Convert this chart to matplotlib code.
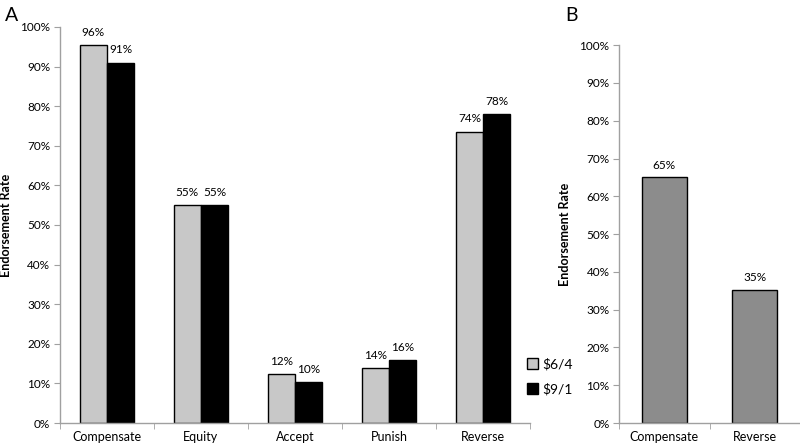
import numpy as np
import matplotlib
matplotlib.use("Agg")
import matplotlib.pyplot as plt
from matplotlib.patches import Patch
from matplotlib.ticker import FixedLocator, PercentFormatter

plt.rcParams["font.family"] = ["Lato", "DejaVu Sans"]

# ---- data ----
categories_a = ["Compensate", "Equity", "Accept", "Punish", "Reverse"]
vals_64 = [95.5, 55.0, 12.3, 13.8, 73.6]   # $6/4
vals_91 = [91.0, 55.0, 10.4, 15.8, 78.0]   # $9/1
categories_b = ["Compensate", "Reverse"]
vals_b = [65.0, 35.2]

LIGHT = "#c8c8c8"
DARK = "#000000"
MID = "#8c8c8c"
AXIS_GRAY = "#a0a0a0"

fig = plt.figure(figsize=(8, 4.43), dpi=100)
ax_a = fig.add_axes([0.075, 0.0451, 0.5875, 0.894])
ax_b = fig.add_axes([0.774, 0.0451, 0.226, 0.853])


def style_axis(ax, ncat):
    for side in ("top", "right"):
        ax.spines[side].set_visible(False)
    for side in ("left", "bottom"):
        ax.spines[side].set_color(AXIS_GRAY)
        ax.spines[side].set_linewidth(1.0)
    ax.set_ylim(0, 100)
    ax.set_xlim(-0.5, ncat - 0.5)
    ax.yaxis.set_major_locator(FixedLocator(np.arange(0, 101, 10)))
    ax.yaxis.set_major_formatter(PercentFormatter(decimals=0))
    ax.tick_params(axis="y", length=4, color=AXIS_GRAY, labelsize=8.5, pad=3)
    # category boundary ticks (Excel style)
    ax.set_xticks(np.arange(ncat), minor=False)
    ax.set_xticks(np.arange(-0.5, ncat, 1.0), minor=True)
    ax.tick_params(axis="x", which="major", length=0, labelsize=9, pad=6)
    ax.tick_params(axis="x", which="minor", length=4, color=AXIS_GRAY)
    ax.set_ylabel("Endorsement Rate", fontsize=9, fontweight="bold", labelpad=6)


# ---- panel A ----
x = np.arange(len(categories_a))
w = 0.29
bars1 = ax_a.bar(x - w / 2, vals_64, w, color=LIGHT, edgecolor="black", linewidth=1.0)
bars2 = ax_a.bar(x + w / 2, vals_91, w, color=DARK, edgecolor="black", linewidth=1.0)
for bars, vals in ((bars1, vals_64), (bars2, vals_91)):
    for b, v in zip(bars, vals):
        ax_a.text(b.get_x() + b.get_width() / 2, v + 1.8, f"{v:.0f}%",
                  ha="center", va="bottom", fontsize=8.5)
style_axis(ax_a, len(categories_a))
ax_a.set_xticklabels(categories_a)

fig.legend(
    handles=[Patch(facecolor=LIGHT, edgecolor="black", label=r"\$6/4"),
             Patch(facecolor=DARK, edgecolor="black", label=r"\$9/1")],
    loc="upper left", bbox_to_anchor=(0.652, 0.205), frameon=False,
    fontsize=10, handlelength=0.8, handleheight=0.8, handletextpad=0.3,
    labelspacing=0.9, borderaxespad=0,
)

# ---- panel B ----
xb = np.arange(len(categories_b))
bars_b = ax_b.bar(xb, vals_b, 0.5, color=MID, edgecolor="black", linewidth=1.0)
for b, v in zip(bars_b, vals_b):
    ax_b.text(b.get_x() + b.get_width() / 2, v + 1.8, f"{v:.0f}%",
              ha="center", va="bottom", fontsize=8.5)
style_axis(ax_b, len(categories_b))
ax_b.set_xticklabels(categories_b)

fig.text(0.006, 0.985, "A", fontsize=14, va="top", ha="left")
fig.text(0.706, 0.985, "B", fontsize=14, va="top", ha="left")

fig.savefig("out.png", dpi=100)
